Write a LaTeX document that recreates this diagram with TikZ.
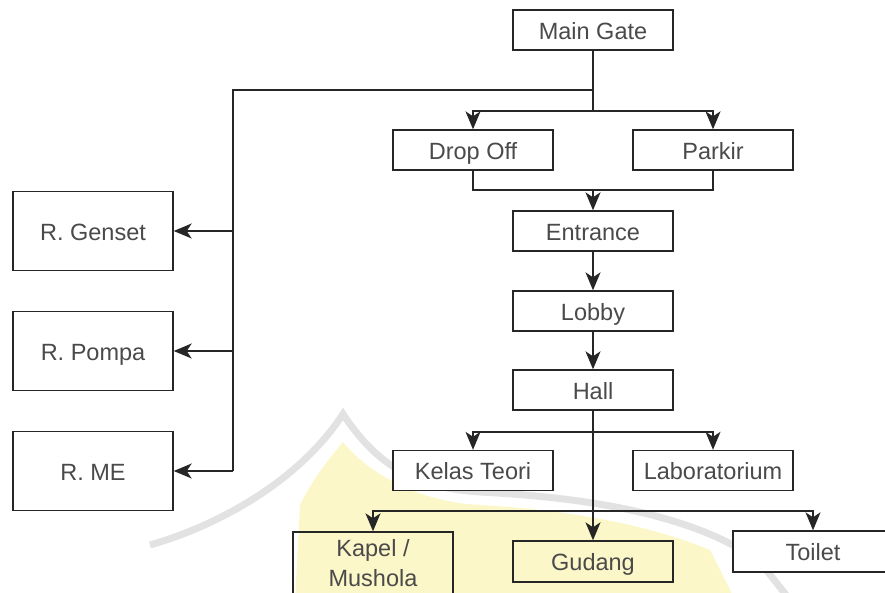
\documentclass[tikz,border=0pt]{standalone}
\usepackage{fontspec}
\setmainfont{Liberation Sans}
\usetikzlibrary{arrows.meta,calc}
\definecolor{txt}{HTML}{4A4A4A}
\definecolor{ln}{HTML}{262626}
\definecolor{wmy}{HTML}{FBF7C8}
\definecolor{wmg}{HTML}{E2E2E2}
\begin{document}
\begin{tikzpicture}[x=1pt,y=-1pt,
  box/.style={draw=ln,line width=1.4pt,fill=white,minimum width=160pt,minimum height=40pt,inner sep=0pt,
    text=txt,font=\fontsize{23.5}{24}\selectfont,text height=18pt,text depth=0pt},
  mbox/.style={draw=ln,line width=1.4pt,minimum width=160pt,inner sep=0pt,
    text=txt,font=\fontsize{23.5}{24}\selectfont,align=center},
  conn/.style={draw=ln,line width=1.4pt},
  arr/.style={conn,-{Stealth[length=18pt,width=15pt,inset=5pt]}}]
\useasboundingbox (0,0) rectangle (885,592);
% faint watermark
\fill[wmy] (295,600) -- (300,505) .. controls (315,475) and (330,458) .. (343,442)
  .. controls (370,475) and (420,502) .. (480,505) .. controls (570,510) and (650,525) .. (710,550)
  -- (735,600) -- cycle;
\draw[wmg,line width=7pt] (150,545) .. controls (220,525) and (300,480) .. (343,414)
  .. controls (380,470) and (420,488) .. (480,492) .. controls (600,498) and (700,518) .. (760,562)
  -- (790,600);
% nodes
\node[box] (gate) at (593,30) {Main Gate};
\node[box] (drop) at (473,150) {Drop Off};
\node[box] (park) at (713,150) {Parkir};
\node[box] (ent) at (593,231) {Entrance};
\node[box] (lob) at (593,311) {Lobby};
\node[box] (hall) at (593,390) {Hall};
\node[box] (kel) at (473,470.5) {Kelas Teori};
\node[box] (lab) at (713,470.5) {Laboratorium};
\node[mbox,minimum height=63pt] (kap) at (373,563.5) {Kapel /\\[6pt]Mushola};
\node[box,fill=none,minimum height=41pt] (gud) at (593,561.5) {Gudang};
\node[box,minimum height=41pt] (toi) at (813,551.5) {Toilet};
\node[box,minimum height=79pt] (gen) at (93,231) {R. Genset};
\node[box,minimum height=79pt] (pom) at (93,351) {R. Pompa};
\node[box,minimum height=79pt] (me) at (93,471) {R. ME};
% junctions
\coordinate (jl) at (593,90);
\coordinate (jc) at (233,90);
\coordinate (js) at (593,111);
\coordinate (jm) at (593,190);
\coordinate (jk) at (593,432);
\coordinate (jt) at (593,511);
% connectors
\draw[conn] (gate.south) -- (js);
\draw[conn] (jl) -- (jc) -- (jc |- me.east);
\draw[arr] (jc |- gen.east) -- (gen.east);
\draw[arr] (jc |- pom.east) -- (pom.east);
\draw[arr] (jc |- me.east) -- (me.east);
\draw[arr] (js) -| (drop.north);
\draw[arr] (js) -| (park.north);
\draw[conn] (drop.south) |- (jm) -| (park.south);
\draw[arr] (jm) -- (ent.north);
\draw[arr] (ent) -- (lob);
\draw[arr] (lob) -- (hall);
\draw[arr] (hall.south) -- (gud.north);
\draw[arr] (jk) -| (kel.north);
\draw[arr] (jk) -| (lab.north);
\draw[arr] (jt) -| (kap.north);
\draw[arr] (jt) -| (toi.north);
\end{tikzpicture}
\end{document}
